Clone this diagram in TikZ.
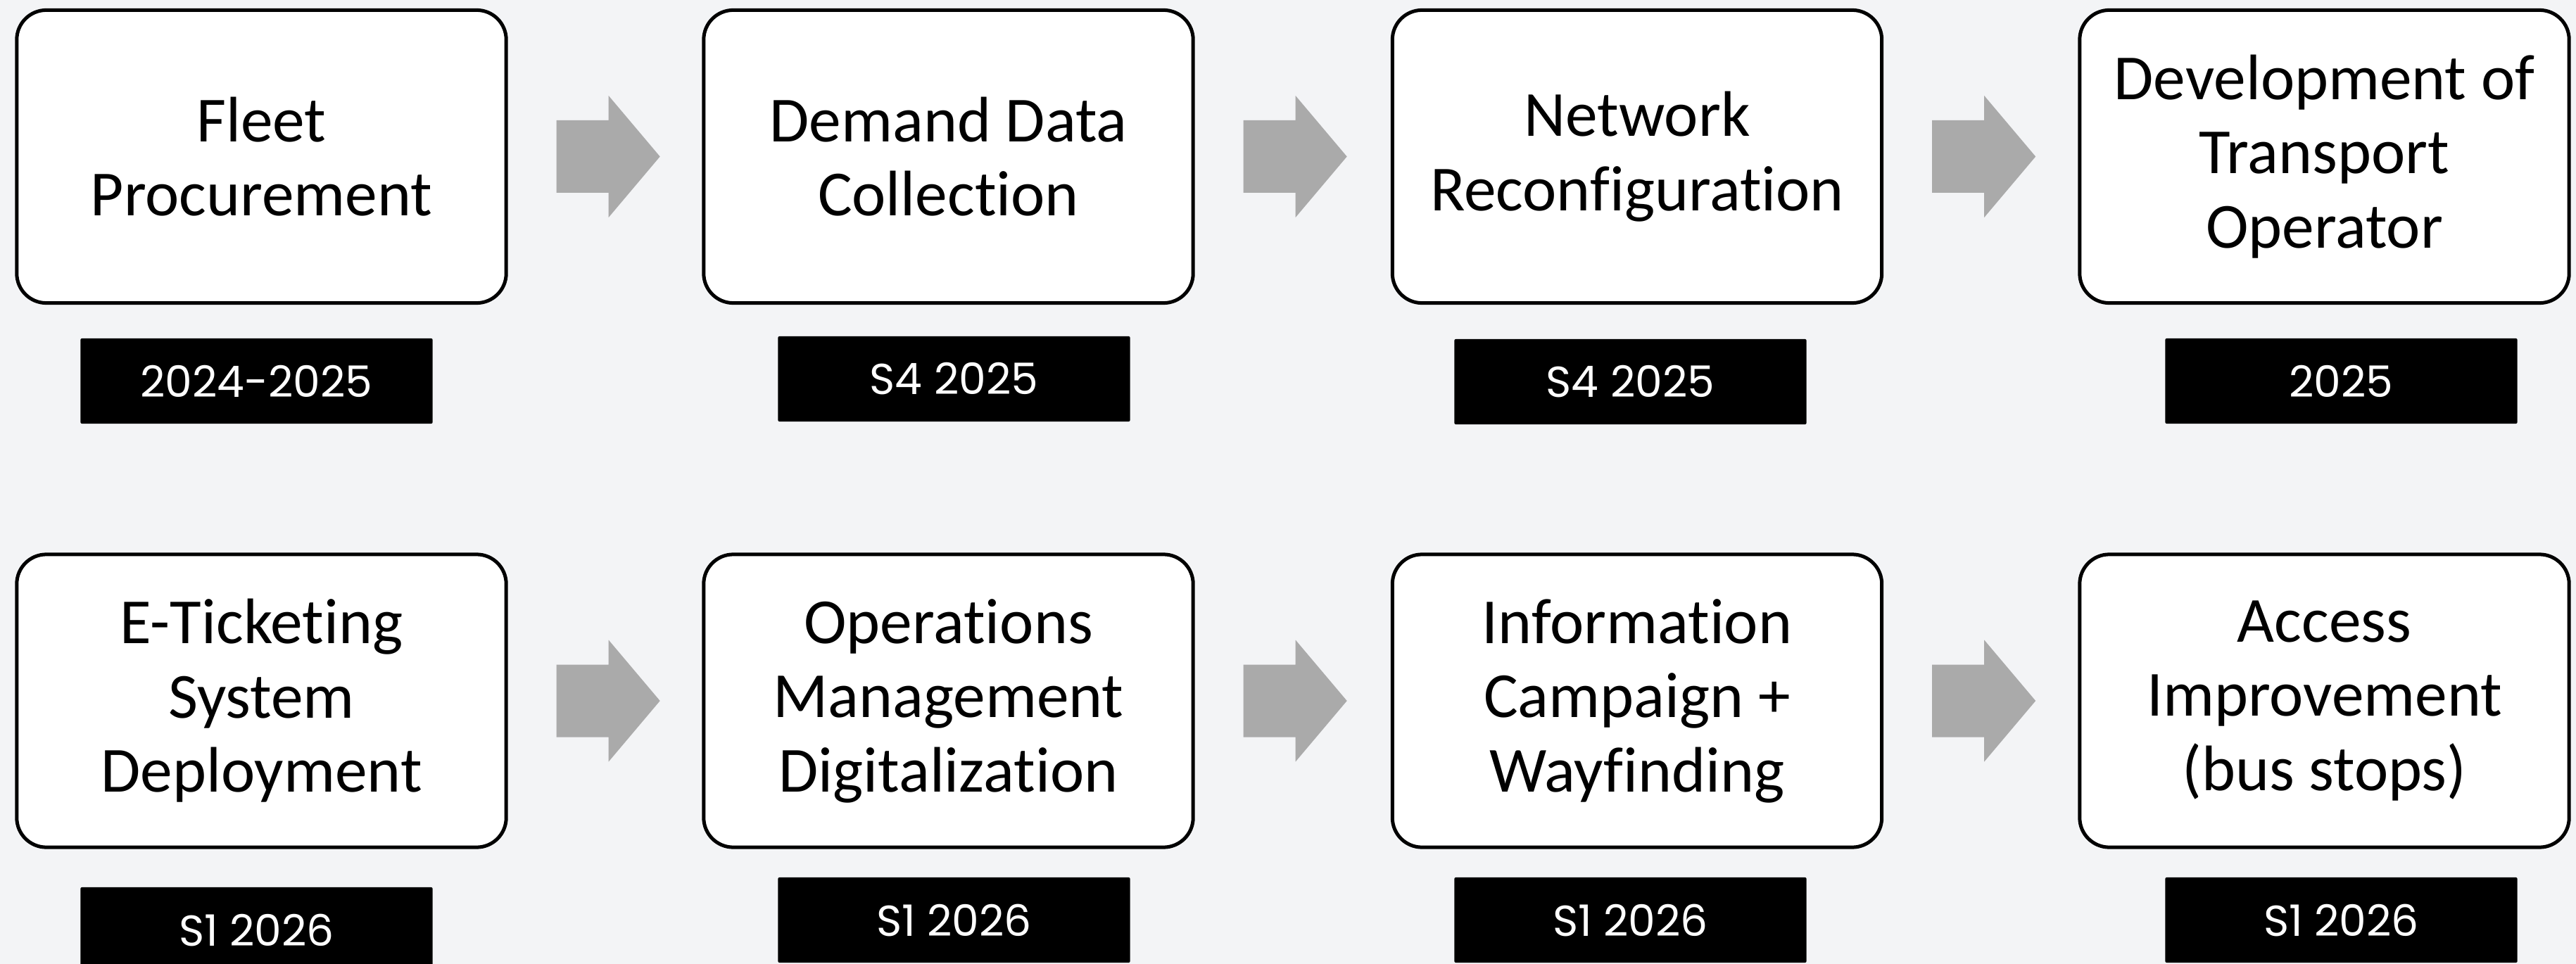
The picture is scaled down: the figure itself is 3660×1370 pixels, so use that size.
\documentclass[tikz,border=0pt]{standalone}
\usepackage{fontspec}
\setmainfont{Carlito}[Ligatures={NoCommon}]
\newfontfamily\labfont{Poppins}
\usetikzlibrary{calc}
\definecolor{bgcol}{RGB}{243,244,246}
\definecolor{arrowgray}{RGB}{170,170,170}
\newcommand\flowarrow[1]{\fill[arrowgray] ($(#1.east)+(69,-51.5)$) -- ++(74,0) -- ++(0,-35) -- ++(73,86.5) -- ++(-73,86.5) -- ++(0,-35) -- ++(-74,0) -- cycle;}
\begin{document}
\begin{tikzpicture}[x=0.01cm,y=-0.01cm,
  stepbox/.style={draw=black, line width=0.05cm, fill=white, rounded corners=0.42cm, minimum width=6.95cm, minimum height=4.16cm, align=center, font=\fontsize{26}{30}\selectfont, inner sep=0pt},
  datebox/.style={fill=black, rounded corners=0.02cm, minimum width=5cm, minimum height=1.21cm, text=white, font=\labfont\fontsize{17.5}{20}\selectfont, inner sep=0pt}]
\fill[bgcol] (0,0) rectangle (3660,1370);
\useasboundingbox (0,0) rectangle (3660,1370);
% row 1
\node[stepbox] (b1) at (371.5,222.5) {Fleet\\Procurement};
\node[stepbox] (b2) at (1347.5,222.5) {Demand Data\\Collection};
\node[stepbox] (b3) at (2326,222.5) {Network\\Reconfiguration};
\node[stepbox] (b4) at (3302.5,222.5) {Development of\\Transport\\Operator};
% row 2
\node[stepbox] (b5) at (371.5,996) {E-Ticketing\\System\\Deployment};
\node[stepbox] (b6) at (1347.5,996) {Operations\\Management\\Digitalization};
\node[stepbox] (b7) at (2326,996) {Information\\Campaign +\\Wayfinding};
\node[stepbox] (b8) at (3302.5,996) {Access\\Improvement\\(bus stops)};
% date labels
\node[datebox] (d1) at (364.5,541.5) {2024-2025};
\node[datebox] (d2) at (1355.5,538.5) {S4 2025};
\node[datebox] (d3) at (2316.5,542.5) {S4 2025};
\node[datebox] (d4) at (3326.5,541.5) {2025};
\node[datebox] (d5) at (364.5,1321.5) {S1 2026};
\node[datebox] (d6) at (1355.5,1307.5) {S1 2026};
\node[datebox] (d7) at (2316.5,1307.5) {S1 2026};
\node[datebox] (d8) at (3326.5,1307.5) {S1 2026};
% arrows
\flowarrow{b1}
\flowarrow{b2}
\flowarrow{b3}
\flowarrow{b5}
\flowarrow{b6}
\flowarrow{b7}
\end{tikzpicture}
\end{document}
